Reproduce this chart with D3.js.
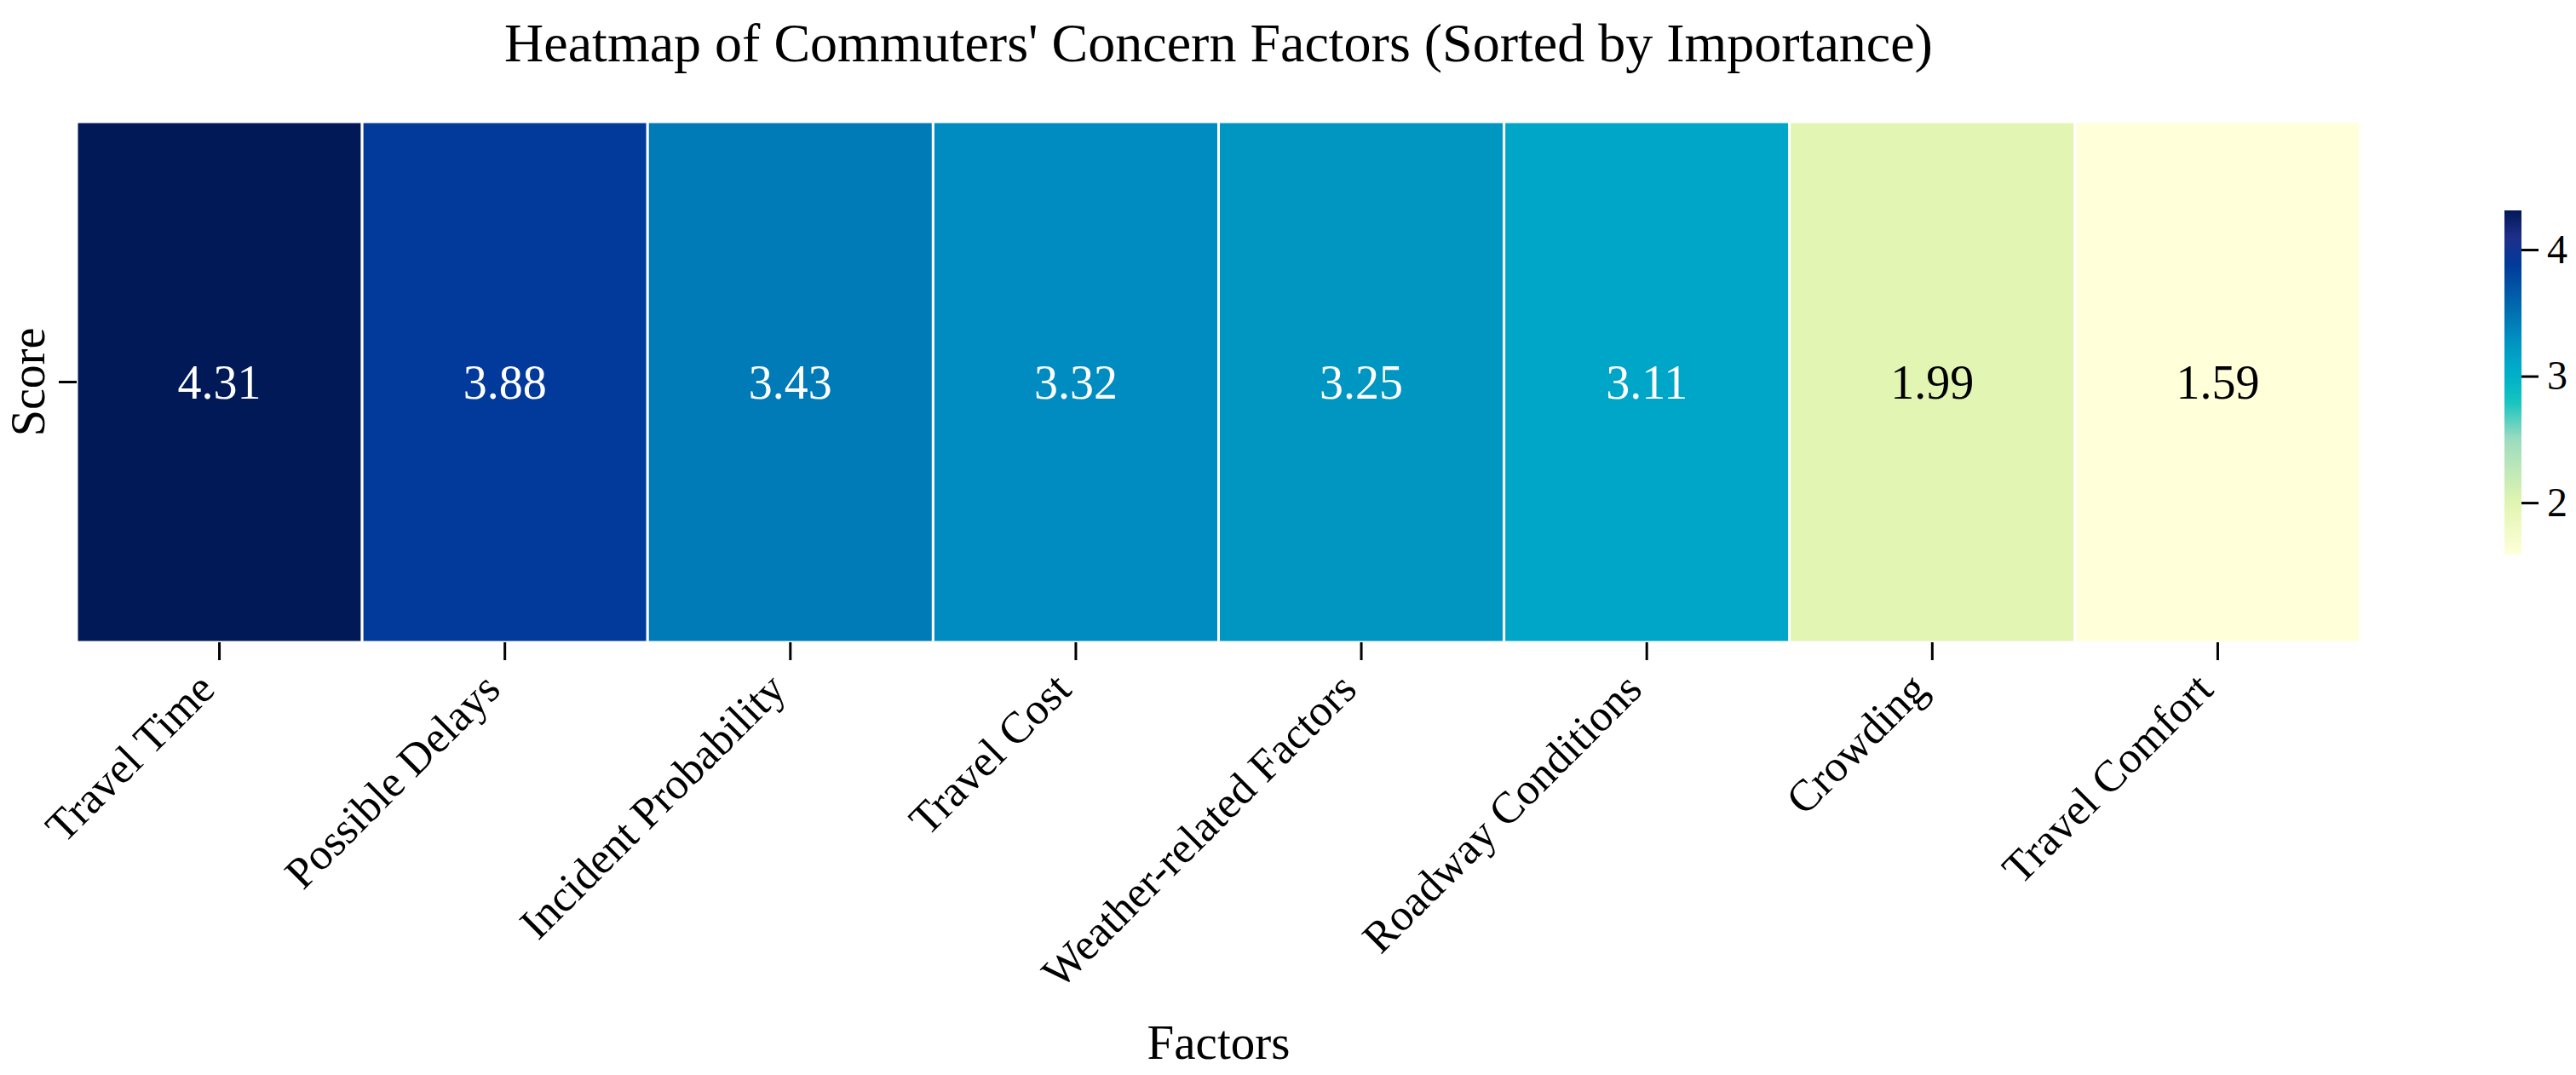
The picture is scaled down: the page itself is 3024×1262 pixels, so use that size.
<!DOCTYPE html>
<html>
<head>
<meta charset="utf-8">
<script src="https://cdn.jsdelivr.net/npm/d3@7"></script>
<style>
  body { margin: 0; background: #fff; }
  text { font-family: "Liberation Serif", "Times New Roman", serif; fill: #000; }
</style>
</head>
<body>
<script>
width = 3024;
height = 1262;

// data
factors = ["Travel Time", "Possible Delays", "Incident Probability", "Travel Cost",
           "Weather-related Factors", "Roadway Conditions", "Crowding", "Travel Comfort"];
scores = [4.31, 3.88, 3.43, 3.32, 3.25, 3.11, 1.99, 1.59];
rows = ["Score"];
cbar_ticks = [2, 3, 4];

// colour stops sampled from the colour bar (value -> colour)
stop_values = [1.59, 2.0, 2.5, 2.8, 3.0, 3.11, 3.25, 3.32, 3.43, 3.88, 4.1, 4.31];
stop_colors = ["#ffffd9", "#e1f5b1", "#9ddcbf", "#14c4c0", "#00b0c8", "#00a6c8",
               "#0096c2", "#008cc1", "#007bb7", "#013a9a", "#1f2f8a", "#011957"];

color = d3.scaleLinear().domain(stop_values).range(stop_colors).clamp(true);

svg_elem = d3.select("body")
  .append("svg")
  .attr("width", width)
  .attr("height", height);

plot = {"left": 90, "right": 2771, "top": 143, "bottom": 754};

x = d3.scaleBand().domain(factors).range([plot.left, plot.right]);
y = d3.scaleBand().domain(rows).range([plot.top, plot.bottom]);

// cells
svg_elem.append("g")
  .selectAll("rect")
  .data(scores)
  .enter().append("rect")
  .attr("x", (d, i) => x(factors[i]))
  .attr("y", y("Score"))
  .attr("width", x.bandwidth())
  .attr("height", y.bandwidth())
  .attr("fill", d => color(d))
  .attr("stroke", "#fff")
  .attr("stroke-width", 3);

// annotations
svg_elem.append("g")
  .selectAll("text")
  .data(scores)
  .enter().append("text")
  .attr("x", (d, i) => x(factors[i]) + x.bandwidth() / 2)
  .attr("y", y("Score") + y.bandwidth() / 2)
  .attr("text-anchor", "middle")
  .attr("dominant-baseline", "central")
  .attr("font-size", 56)
  .style("fill", d => d < 2.6 ? "#000" : "#fff")
  .text(d => d.toFixed(2));

// x axis
x_axis = svg_elem.append("g")
  .attr("transform", "translate(0," + plot.bottom + ")")
  .call(d3.axisBottom(x).tickSize(21).tickPadding(0));
x_axis.select(".domain").remove();
x_axis.selectAll(".tick line").attr("stroke", "#000").attr("stroke-width", 3);
x_axis.selectAll(".tick text")
  .attr("font-size", 52)
  .attr("text-anchor", "end")
  .attr("dy", null)
  .attr("y", null)
  .attr("transform", "translate(-3,58) rotate(-45)");

// y axis
y_axis = svg_elem.append("g")
  .attr("transform", "translate(" + plot.left + ",0)")
  .call(d3.axisLeft(y).tickSize(21).tickFormat(""));
y_axis.select(".domain").remove();
y_axis.selectAll(".tick line").attr("stroke", "#000").attr("stroke-width", 3);

svg_elem.append("text")
  .attr("transform", "translate(52," + (plot.top + plot.bottom) / 2 + ") rotate(-90)")
  .attr("text-anchor", "middle")
  .attr("font-size", 56)
  .text("Score");

// title and x label
svg_elem.append("text")
  .attr("x", (plot.left + plot.right) / 2)
  .attr("y", 72)
  .attr("text-anchor", "middle")
  .attr("font-size", 64)
  .text("Heatmap of Commuters' Concern Factors (Sorted by Importance)");

svg_elem.append("text")
  .attr("x", (plot.left + plot.right) / 2)
  .attr("y", 1243)
  .attr("text-anchor", "middle")
  .attr("font-size", 57)
  .text("Factors");

// colour bar
cbar = {"x": 2940, "w": 20};
cy = d3.scaleLinear().domain([1.59, 4.31]).range([651, 247]);

grad = svg_elem.append("defs").append("linearGradient")
  .attr("id", "cbar_grad")
  .attr("x1", 0).attr("y1", 1).attr("x2", 0).attr("y2", 0);
grad.selectAll("stop")
  .data(d3.range(0, 1.0001, 0.02))
  .enter().append("stop")
  .attr("offset", d => d)
  .attr("stop-color", d => color(1.59 + d * (4.31 - 1.59)));

svg_elem.append("rect")
  .attr("x", cbar.x)
  .attr("y", cy(4.31))
  .attr("width", cbar.w)
  .attr("height", cy(1.59) - cy(4.31))
  .attr("fill", "url(#cbar_grad)");

c_axis = svg_elem.append("g")
  .attr("transform", "translate(" + (cbar.x + cbar.w) + ",0)")
  .call(d3.axisRight(cy).tickValues(cbar_ticks).tickFormat(d3.format("d")).tickSize(20).tickPadding(10));
c_axis.select(".domain").remove();
c_axis.selectAll(".tick line").attr("stroke", "#000").attr("stroke-width", 3);
c_axis.selectAll(".tick text").attr("font-size", 48);
</script>
</body>
</html>
